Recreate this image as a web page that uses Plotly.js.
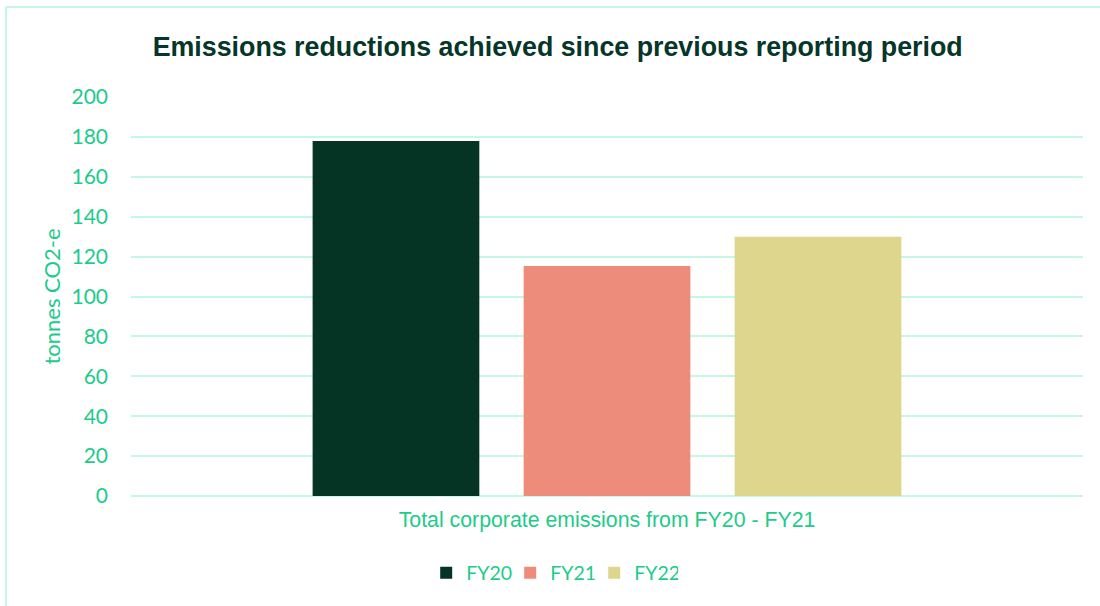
<!DOCTYPE html>
<html>
<head>
<meta charset="utf-8">
<script src="https://cdn.plot.ly/plotly-3.0.1.min.js"></script>
<style>html,body{margin:0;padding:0;background:#fff;}#chart{width:1100px;height:606px;}</style>
</head>
<body>
<div id="chart"></div>
<script>
const categories = ["Total corporate emissions from FY20 - FY21"];
const seriesNames = ["FY20", "FY21", "FY22"];
const fy20 = [178];
const fy21 = [115.3];
const fy22 = [130];
const seriesValues = [fy20, fy21, fy22];
const seriesColors = ["#053324", "#ED8C7A", "#DFD68D"];
const yTicks = [0, 20, 40, 60, 80, 100, 120, 140, 160, 180, 200];

const green = "#1DCB8B";
const grid = "#C5F7E6";

const traces = seriesNames.map((name, i) => ({
  type: "bar",
  name: name,
  x: categories,
  y: seriesValues[i],
  marker: {color: seriesColors[i]},
  hoverinfo: "skip"
}));

const layout = {
  width: 1100,
  height: 606,
  margin: {l: 131, r: 17, t: 97, b: 110},
  paper_bgcolor: "#ffffff",
  plot_bgcolor: "#ffffff",
  barmode: "group",
  bargap: 0.335,
  bargroupgap: 0.21,
  title: {
    text: "Emissions reductions achieved since previous reporting period",
    font: {family: "Liberation Sans, Arial, sans-serif", size: 26.8, color: "#06352A", weight: "bold"},
    xref: "container", x: 0.507, xanchor: "center",
    yref: "container", y: 1 - 47/606, yanchor: "middle"
  },
  xaxis: {
    type: "category",
    showgrid: false,
    showline: false,
    zeroline: false,
    ticks: "",
    tickfont: {family: "Liberation Sans, Arial, sans-serif", size: 21.3, color: green},
    ticklabelstandoff: 9
  },
  yaxis: {
    range: [0, 200],
    tickvals: yTicks,
    ticktext: yTicks.map(String),
    showgrid: true,
    gridcolor: grid,
    gridwidth: 2,
    zeroline: true,
    zerolinecolor: grid,
    zerolinewidth: 2,
    showline: false,
    ticks: "",
    tickfont: {family: "Lato, Open Sans, sans-serif", size: 21, color: green},
    ticklabelstandoff: 22,
    title: {
      text: "tonnes CO2-e",
      font: {family: "Lato, Open Sans, sans-serif", size: 22, color: green},
      standoff: 4
    }
  },
  showlegend: true,
  legend: {
    orientation: "h",
    xref: "container", x: 0.502, xanchor: "center",
    yref: "container", y: 1 - 573/606, yanchor: "middle",
    font: {family: "Lato, Open Sans, sans-serif", size: 19.5, color: green},
    itemwidth: 30,
    entrywidth: 39,
    tracegroupgap: 0
  },
  shapes: [
    {type: "line", xref: "paper", yref: "paper", x0: (6-131)/952, x1: (1105-131)/952, y0: (496-7)/399, y1: (496-7)/399, line: {color: "#C5F7E6", width: 2}},
    {type: "line", xref: "paper", yref: "paper", x0: (6-131)/952, x1: (6-131)/952, y0: (496-7)/399, y1: (496-615)/399, line: {color: "#C5F7E6", width: 2}}
  ]
};

Plotly.newPlot("chart", traces, layout, {displayModeBar: false, staticPlot: true});
</script>
</body>
</html>
